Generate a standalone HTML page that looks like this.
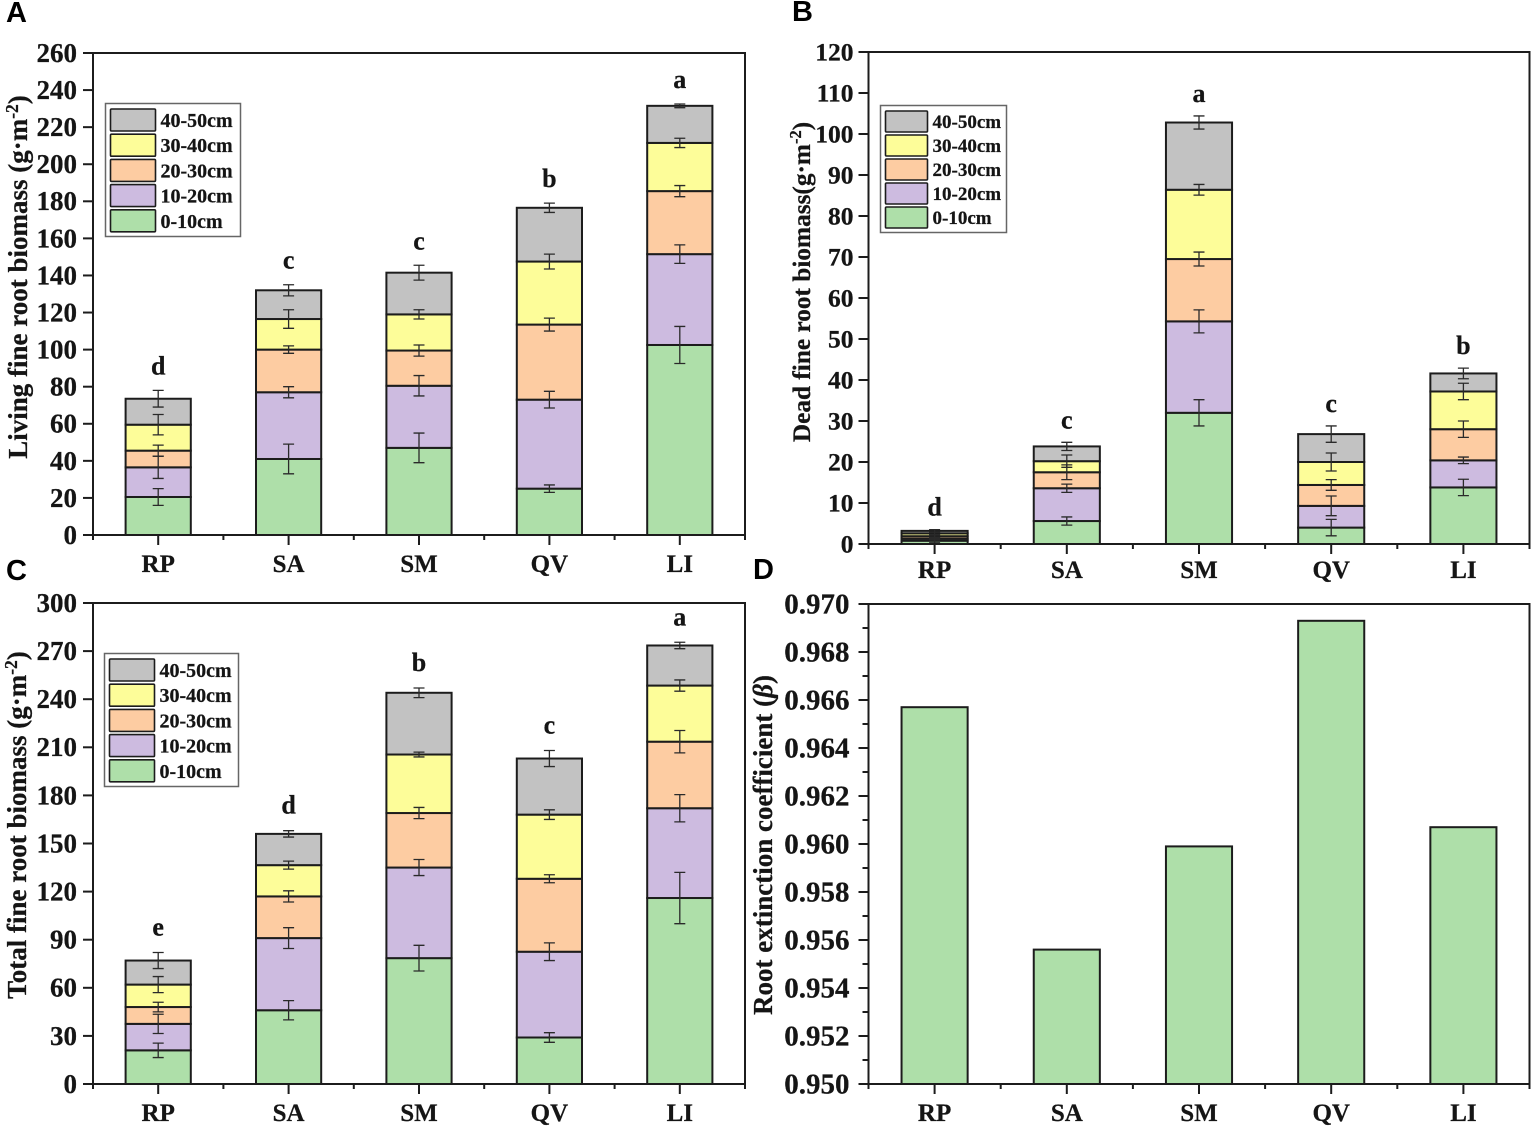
<!DOCTYPE html>
<html lang="en">
<head>
<meta charset="utf-8">
<title>Fine root biomass charts</title>
<style>
html,body{margin:0;padding:0;background:#fff;width:1535px;height:1130px;overflow:hidden}
svg{display:block;filter:blur(0.35px)}
text{font-family:"Liberation Serif",serif;font-weight:bold;fill:#151515;stroke:#151515;stroke-width:0.25px}
</style>
</head>
<body>
<svg id="figure" width="1535" height="1130" viewBox="0 0 1535 1130" xmlns="http://www.w3.org/2000/svg"></svg>
<script>
const species = ['RP', 'SA', 'SM', 'QV', 'LI'];
const depthLabels = ['0-10cm', '10-20cm', '20-30cm', '30-40cm', '40-50cm'];

const livingValues = [
  [20.5, 41, 47, 25, 102.5],
  [16, 36, 33.5, 48, 49],
  [9, 23, 19, 40.5, 34],
  [14, 16.5, 19.5, 34, 26],
  [14, 15.5, 22.5, 29, 20]
];
const livingErrors = [
  [4.5, 8, 8, 2, 10],
  [6, 3, 5.5, 4.5, 5],
  [3, 2, 3, 3.5, 3],
  [5.5, 5, 2.5, 4, 2.5],
  [4.5, 3, 4, 2.5, 1]
];
const livingLetters = ['d', 'c', 'c', 'b', 'a'];
const livingTicks = [0, 20, 40, 60, 80, 100, 120, 140, 160, 180, 200, 220, 240, 260];

const deadValues = [
  [0.8, 5.6, 32, 4, 13.8],
  [0.5, 8, 22.3, 5.3, 6.6],
  [0.6, 3.9, 15.2, 5.1, 7.6],
  [0.7, 2.7, 16.9, 5.6, 9.2],
  [0.6, 3.6, 16.4, 6.8, 4.4]
];
const deadErrors = [
  [0.5, 1, 3.2, 2, 2],
  [0.3, 1, 2.8, 2.4, 0.8],
  [0.3, 1.8, 1.7, 1.3, 2],
  [0.3, 1.5, 1.3, 2.2, 2],
  [0.3, 1, 1.6, 2, 1.3]
];
const deadLetters = ['d', 'c', 'a', 'c', 'b'];
const deadTicks = [0, 10, 20, 30, 40, 50, 60, 70, 80, 90, 100, 110, 120];

const totalValues = [
  [21, 46, 78.5, 29, 116],
  [16.5, 45, 56.5, 53.5, 56],
  [10.5, 26, 34, 45.5, 41.5],
  [14, 19.5, 36.5, 40, 35],
  [15, 19.5, 38.5, 35, 25]
];
const totalErrors = [
  [4.5, 6, 8, 3, 16],
  [6, 6.5, 5, 5.5, 8.5],
  [3, 3.5, 3.5, 2.5, 7],
  [5, 2.5, 1.5, 3, 3.5],
  [5, 2, 3, 5, 2]
];
const totalLetters = ['e', 'd', 'b', 'c', 'a'];
const totalTicks = [0, 30, 60, 90, 120, 150, 180, 210, 240, 270, 300];

const extinctionValues = [0.9657, 0.9556, 0.9599, 0.9693, 0.9607];
const extinctionTicks = [0.950, 0.952, 0.954, 0.956, 0.958, 0.960, 0.962, 0.964, 0.966, 0.968, 0.970];

const depthColors = ['#aedfa9', '#cdbbe0', '#fdcca2', '#fdfd99', '#c2c2c2'];
const ink = '#1c1c1c';
const NS = 'http://www.w3.org/2000/svg';
const figure = document.getElementById('figure');

function mk(tag, attrs, parent, text) {
  const el = document.createElementNS(NS, tag);
  for (const k in attrs) el.setAttribute(k, attrs[k]);
  if (text !== undefined) el.textContent = text;
  (parent || figure).appendChild(el);
  return el;
}

function drawAxes(g, box, ticks, decimals, minorTicks) {
  const xScale = i => box.left + (box.right - box.left) * (i + 0.5) / species.length;
  const yMin = ticks[0];
  const yMax = ticks[ticks.length - 1];
  const yScale = v => box.bottom - (v - yMin) / (yMax - yMin) * (box.bottom - box.top);

  const frame = mk('rect', {x: box.left, y: box.top, width: box.right - box.left, height: box.bottom - box.top, fill: 'none', stroke: ink, 'stroke-width': 2}, g);
  
  

  ticks.forEach(t => {
    const y = yScale(t);
    const tick = mk('line', {x1: box.left - 10, x2: box.left, y1: y, y2: y, stroke: ink, 'stroke-width': 2}, g);
    
    
    const label = mk('text', {x: box.left - box.tickGap, y: y + box.tickFont * 0.33, 'text-anchor': 'end', 'font-size': box.tickFont}, g, t.toFixed(decimals));
    
    
  });

  if (minorTicks) {
    for (let i = 0; i < ticks.length - 1; i++) {
      const y = yScale((ticks[i] + ticks[i + 1]) / 2);
      const minor = mk('line', {x1: box.left - 6, x2: box.left, y1: y, y2: y, stroke: ink, 'stroke-width': 2}, g);
      
      
    }
  }

  species.forEach((name, i) => {
    const x = xScale(i);
    const tick = mk('line', {x1: x, x2: x, y1: box.bottom, y2: box.bottom + 10, stroke: ink, 'stroke-width': 2}, g);
    
    
    const label = mk('text', {x: x, y: box.bottom + box.xLabelGap, 'text-anchor': 'middle', 'font-size': 25}, g, name);
    
    
  });
  for (let i = 0; i <= species.length; i++) {
    const x = box.left + (box.right - box.left) * i / species.length;
    const minor = mk('line', {x1: x, x2: x, y1: box.bottom, y2: box.bottom + 5, stroke: ink, 'stroke-width': 2}, g);
    
    
  }
  return {xScale, yScale};
}

function drawYTitle(g, box, before, sup, after) {
  const title = mk('text', {transform: 'translate(' + box.titleX + ' ' + box.titleY + ') rotate(-90)', 'text-anchor': 'middle', 'font-size': box.titleFont}, g);
  
  
  mk('tspan', {}, title, before);
  if (sup) {
    mk('tspan', {dy: -9, 'font-size': box.titleFont * 0.65}, title, sup);
    mk('tspan', {dy: 9}, title, after);
  }
}

function drawStacked(box, values, errors, letters, ticks, yTitleParts, panelName) {
  const g = mk('g', {}, figure);
  
  

  const barWidth = (box.right - box.left) / species.length / 2;
  const scales = {
    xScale: i => box.left + (box.right - box.left) * (i + 0.5) / species.length,
    yScale: v => box.bottom - (v - ticks[0]) / (ticks[ticks.length - 1] - ticks[0]) * (box.bottom - box.top)
  };

  const running = species.map(() => 0);
  const errorMarks = [];
  values.forEach((row, s) => {
    row.forEach((v, i) => {
      const y0 = scales.yScale(running[i]);
      running[i] += v;
      const y1 = scales.yScale(running[i]);
      const bar = mk('rect', {x: scales.xScale(i) - barWidth / 2, y: y1, width: barWidth, height: y0 - y1, fill: depthColors[s], stroke: ink, 'stroke-width': 2}, g);
      
      
      errorMarks.push({i: i, top: running[i], err: errors[s][i]});
    });
  });

  errorMarks.forEach(m => {
    const x = scales.xScale(m.i);
    const yA = scales.yScale(m.top + m.err);
    const yB = scales.yScale(m.top - m.err);
    const eb = mk('path', {d: 'M' + (x - 5.5) + ' ' + yA + 'H' + (x + 5.5) + 'M' + x + ' ' + yA + 'V' + yB + 'M' + (x - 5.5) + ' ' + yB + 'H' + (x + 5.5), fill: 'none', stroke: '#2a2a2a', 'stroke-width': 1.3}, g);
    
    
  });

  letters.forEach((letter, i) => {
    const last = values.length - 1;
    const capY = scales.yScale(running[i] + errors[last][i]);
    const sig = mk('text', {x: scales.xScale(i), y: capY - box.letterGap, 'text-anchor': 'middle', 'font-size': 26}, g, letter);
    
    
  });

  drawAxes(g, box, ticks, 0, false);
  drawYTitle(g, box, yTitleParts[0], yTitleParts[1], yTitleParts[2]);

  const lg = box.legend;
  const legend = mk('g', {}, g);
  
  
  const legendBox = mk('rect', {x: lg.x, y: lg.y, width: lg.w, height: lg.h, fill: '#fff', stroke: '#666', 'stroke-width': 1.5}, legend);
  
  
  for (let s = depthLabels.length - 1, row = 0; s >= 0; s--, row++) {
    const top = lg.y + 5.5 + row * lg.step;
    const swatch = mk('rect', {x: lg.x + 5, y: top, width: lg.sw, height: lg.sh, fill: depthColors[s], stroke: ink, 'stroke-width': 1.6, rx: 1}, legend);
    
    
    const text = mk('text', {x: lg.x + lg.sw + 10, y: top + lg.sh - 4, 'font-size': lg.font}, legend, depthLabels[s]);
    
    
  }
}

function drawPanelLetter(letter, x, y) {
  const t = mk('text', {x: x, y: y, 'font-size': 29, style: 'font-family:"Liberation Sans",sans-serif;font-weight:bold;fill:#000;stroke:none'}, figure, letter);
  
  
}

drawStacked(
  {left: 93, right: 745, top: 53, bottom: 535, tickFont: 27, tickGap: 16, xLabelGap: 37, letterGap: 16, titleX: 27, titleY: 277, titleFont: 27,
   legend: {x: 105.5, y: 103.5, w: 135, h: 133, sw: 45, sh: 22, step: 25.2, font: 20}},
  livingValues, livingErrors, livingLetters, livingTicks,
  ['Living fine root biomass (g·m', '-2', ')'], 'panel-a-living-biomass'
);
drawStacked(
  {left: 868.5, right: 1529.5, top: 52, bottom: 544, tickFont: 25.5, tickGap: 15, xLabelGap: 34, letterGap: 14, titleX: 810, titleY: 282, titleFont: 25.3,
   legend: {x: 880.5, y: 105.5, w: 126, h: 127, sw: 42, sh: 21, step: 24, font: 19}},
  deadValues, deadErrors, deadLetters, deadTicks,
  ['Dead fine root biomass(g·m', '-2', ')'], 'panel-b-dead-biomass'
);
drawStacked(
  {left: 93, right: 745, top: 603, bottom: 1084, tickFont: 27, tickGap: 16, xLabelGap: 37, letterGap: 17, titleX: 26, titleY: 825, titleFont: 27,
   legend: {x: 104.5, y: 653.5, w: 134, h: 133, sw: 45, sh: 22, step: 25.2, font: 20}},
  totalValues, totalErrors, totalLetters, totalTicks,
  ['Total fine root biomass (g·m', '-2', ')'], 'panel-c-total-biomass'
);

(function drawExtinction() {
  const box = {left: 868.5, right: 1529.5, top: 604, bottom: 1084, tickFont: 29, tickGap: 19, xLabelGap: 37, titleX: 772, titleY: 845, titleFont: 27};
  const g = mk('g', {}, figure);
  
  
  const xScale = i => box.left + (box.right - box.left) * (i + 0.5) / species.length;
  const yMin = extinctionTicks[0];
  const yMax = extinctionTicks[extinctionTicks.length - 1];
  const yScale = v => box.bottom - (v - yMin) / (yMax - yMin) * (box.bottom - box.top);
  const barWidth = (box.right - box.left) / species.length / 2;
  extinctionValues.forEach((v, i) => {
    const y = yScale(v);
    const bar = mk('rect', {x: xScale(i) - barWidth / 2, y: y, width: barWidth, height: box.bottom - y, fill: depthColors[0], stroke: ink, 'stroke-width': 2}, g);
    
    
  });
  drawAxes(g, box, extinctionTicks, 3, true);
  const title = mk('text', {transform: 'translate(' + box.titleX + ' ' + box.titleY + ') rotate(-90)', 'text-anchor': 'middle', 'font-size': box.titleFont}, g);
  
  
  mk('tspan', {}, title, 'Root extinction coefficient (');
  mk('tspan', {'font-style': 'italic'}, title, 'β');
  mk('tspan', {}, title, ')');
})();

drawPanelLetter('A', 6, 22);
drawPanelLetter('B', 792, 21);
drawPanelLetter('C', 6, 580);
drawPanelLetter('D', 753, 579);
</script>
</body>
</html>
